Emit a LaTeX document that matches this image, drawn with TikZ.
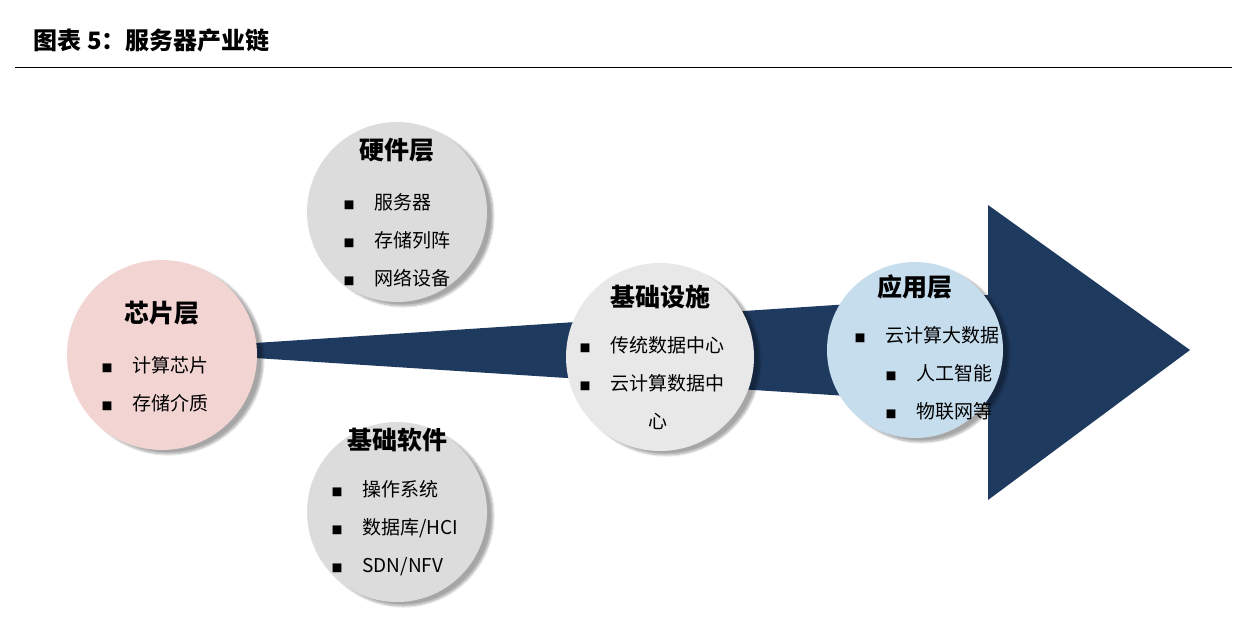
\documentclass[tikz,border=0pt]{standalone}
\usepackage{fontspec}
\setmainfont{Noto Sans CJK SC}
\usetikzlibrary{shadows.blur}
\definecolor{navy}{HTML}{1F3A5F}
\definecolor{pinkc}{HTML}{F2D5D3}
\definecolor{greyc}{HTML}{DCDCDC}
\definecolor{lgreyc}{HTML}{E8E8E8}
\definecolor{bluec}{HTML}{C6DDEE}
\newcommand{\bul}{{\fontsize{11}{11}\selectfont ■}\hspace{20pt}}
\begin{document}
\begin{tikzpicture}[x=1pt,y=-1pt,
  ball/.style={circle,minimum size=#1,inner sep=0pt,blur shadow={shadow xshift=6pt,shadow yshift=-4pt,shadow blur steps=8,shadow opacity=35}},
  ttl/.style={font=\bfseries\fontsize{25}{28}\selectfont},
  itm/.style={font=\fontsize{19}{38}\selectfont,align=left}]
\useasboundingbox (0,0) rectangle (1246,630);
\node[anchor=west,font=\bfseries\fontsize{24}{28}\selectfont] (title) at (30,40) {图表 5：服务器产业链};
\draw[line width=1pt] (15,67) -- (1232,67);
\fill[navy] (255,343) -- (988,295) -- (988,205) -- (1190,350) -- (988,500) -- (988,405) -- (255,358) -- cycle;
\node[ball=190pt,fill=pinkc] (chip) at (162,355) {};
\node[ball=180pt,fill=greyc] (hw) at (397,212) {};
\node[ball=180pt,fill=greyc] (sw) at (397,512) {};
\node[ball=188pt,fill=lgreyc] (inf) at (660,357) {};
\node[ball=176pt,fill=bluec] (app) at (915,350) {};
\node[ttl] (t1) at (162,313) {芯片层};
\node[itm] (l1) at (155,384) {\bul 计算芯片\\\bul 存储介质};
\node[ttl] (t2) at (397,150) {硬件层};
\node[itm] (l2) at (397,240) {\bul 服务器\\\bul 存储列阵\\\bul 网络设备};
\node[ttl] (t3) at (397,440) {基础软件};
\node[itm] (l3) at (395,528) {\bul 操作系统\\\bul 数据库/HCI\\\bul SDN/NFV};
\node[ttl] (t4) at (660,297) {基础设施};
\node[itm] (l4) at (652,383) {\bul 传统数据中心\\\bul 云计算数据中\\\hphantom{\bul 云计}心};
\node[ttl] (t5) at (915,287) {应用层};
\node[itm] (l5) at (927,373) {\bul 云计算大数据\\\hphantom{\bul }\bul 人工智能\\\hphantom{\bul }\bul 物联网等};
\end{tikzpicture}
\end{document}
